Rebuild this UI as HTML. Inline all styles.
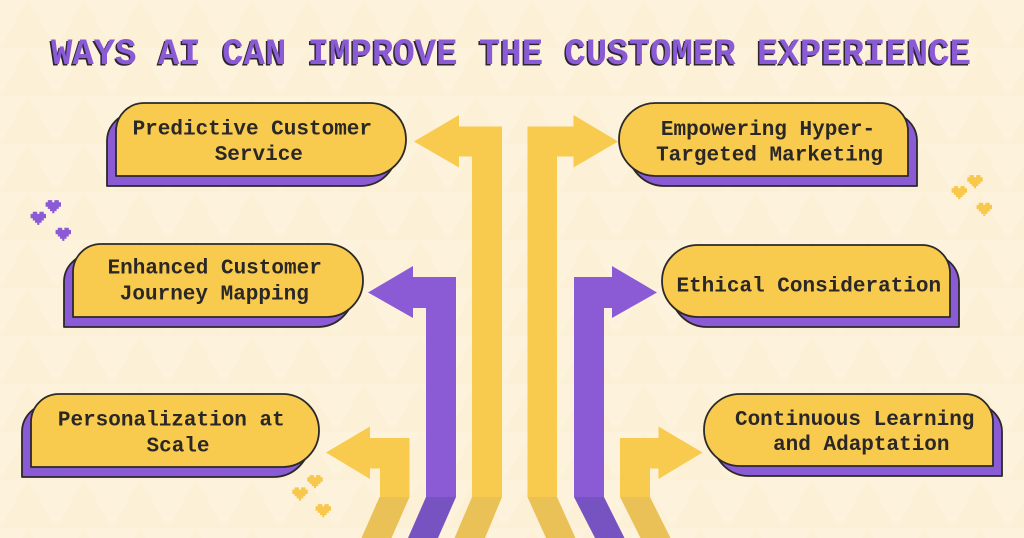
<!DOCTYPE html>
<html>
<head>
<meta charset="utf-8">
<style>
  html, body { margin: 0; padding: 0; background: #fdf3dc; }
  body { width: 1024px; height: 538px; overflow: hidden; }
  svg { display: block; }
  .t { font-family: "Liberation Mono", "DejaVu Sans Mono", monospace; font-weight: bold; font-size: 21px; fill: #2a2727; }
  .title { font-family: "Liberation Mono", "DejaVu Sans Mono", monospace; font-weight: bold; font-size: 37px; }
</style>
</head>
<body>
<svg width="1024" height="538" viewBox="0 0 1024 538" xmlns="http://www.w3.org/2000/svg">
  <defs>
    <pattern id="bgp" width="56" height="48" patternUnits="userSpaceOnUse">
      <rect width="56" height="48" fill="#fdf3dc"/>
      <polygon points="0,48 28,0 56,48" fill="#fcf0d7"/>
    </pattern>
  </defs>
  <rect width="1024" height="538" fill="url(#bgp)"/>

  <!-- Title -->
  <text class="title" x="509.5" y="65.5" text-anchor="middle" textLength="920" lengthAdjust="spacingAndGlyphs" fill="#2b2630">WAYS AI CAN IMPROVE THE CUSTOMER EXPERIENCE</text>
  <text class="title" x="511" y="64" text-anchor="middle" textLength="920" lengthAdjust="spacingAndGlyphs" fill="#8b5bd6">WAYS AI CAN IMPROVE THE CUSTOMER EXPERIENCE</text>

  <!-- Arrows -->
  <polygon fill="#f8ca4e" points="502,126.5 502,497 472,497 472,156.5 459,156.5 459,167.5 414,141.5 459,115 459,126.5"/>
  <polygon fill="#f8ca4e" points="527.5,497 527.5,126.5 573.5,126.5 573.5,115 618,141.5 573.5,167.5 573.5,156.5 557,156.5 557,497"/>
  <polygon fill="#8b5bd6" points="456,277 456,497 426,497 426,308 413,308 413,318 368,292.5 413,266 413,277"/>
  <polygon fill="#8b5bd6" points="574,497 574,277 612,277 612,266 657,292.5 612,318 612,308 604,308 604,497"/>
  <polygon fill="#f8ca4e" points="409.5,438 409.5,497 380,497 380,468.5 370,468.5 370,479 326,452.5 370,426.5 370,438"/>
  <polygon fill="#f8ca4e" points="620,497 620,438 658.5,438 658.5,426.5 702.5,452.5 658.5,479 658.5,468.5 650,468.5 650,497"/>

  <!-- bottom slants -->
  <polygon fill="#e9c157" points="379.5,497 409.5,497 391.5,538 361.5,538"/>
  <polygon fill="#7653c0" points="426,497 456,497 438,538 408,538"/>
  <polygon fill="#e9c157" points="472,497 502,497 485,538 454.5,538"/>
  <polygon fill="#e9c157" points="527.5,497 557,497 575.5,538 546,538"/>
  <polygon fill="#7653c0" points="574,497 604,497 624.5,538 595,538"/>
  <polygon fill="#e9c157" points="620,497 650,497 670.5,538 640.5,538"/>

  <!-- Boxes -->
  <g stroke="#2b2929" stroke-width="1.8" stroke-linejoin="round">
    <path fill="#8b5bd6" d="M107,186 L107,141 A28,28 0 0 1 135,113 L360.5,113 A36.5,36.5 0 0 1 360.5,186 Z"/>
    <path fill="#f8ca4e" d="M116,176 L116,131 A28,28 0 0 1 144,103 L369.5,103 A36.5,36.5 0 0 1 369.5,176 Z"/>
    <path fill="#8b5bd6" d="M64,327 L64,282 A28,28 0 0 1 92,254 L317.5,254 A36.5,36.5 0 0 1 317.5,327 Z"/>
    <path fill="#f8ca4e" d="M73,317 L73,272 A28,28 0 0 1 101,244 L326.5,244 A36.5,36.5 0 0 1 326.5,317 Z"/>
    <path fill="#8b5bd6" d="M22,477 L22,432 A28,28 0 0 1 50,404 L273.5,404 A36.5,36.5 0 0 1 273.5,477 Z"/>
    <path fill="#f8ca4e" d="M31,467 L31,422 A28,28 0 0 1 59,394 L282.5,394 A36.5,36.5 0 0 1 282.5,467 Z"/>

    <path fill="#8b5bd6" d="M917,186 L917,141 A28,28 0 0 0 889,113 L664.5,113 A36.5,36.5 0 0 0 664.5,186 Z"/>
    <path fill="#f8ca4e" d="M908,176 L908,131 A28,28 0 0 0 880,103 L655.5,103 A36.5,36.5 0 0 0 655.5,176 Z"/>
    <path fill="#8b5bd6" d="M959,327 L959,283 A28,28 0 0 0 931,255 L707,255 A36,36 0 0 0 707,327 Z"/>
    <path fill="#f8ca4e" d="M950,317 L950,273 A28,28 0 0 0 922,245 L698,245 A36,36 0 0 0 698,317 Z"/>
    <path fill="#8b5bd6" d="M1002,476 L1002,432 A28,28 0 0 0 974,404 L749,404 A36,36 0 0 0 749,476 Z"/>
    <path fill="#f8ca4e" d="M993,466 L993,422 A28,28 0 0 0 965,394 L740,394 A36,36 0 0 0 740,466 Z"/>
  </g>

  <!-- Box text -->
  <text class="t" x="252.3" y="134.3" text-anchor="middle">Predictive Customer</text>
  <text class="t" x="258.8" y="160" text-anchor="middle">Service</text>

  <text class="t" x="214.7" y="273.5" text-anchor="middle">Enhanced Customer</text>
  <text class="t" x="214.3" y="299.5" text-anchor="middle">Journey Mapping</text>

  <text class="t" x="171.3" y="425.7" text-anchor="middle">Personalization at</text>
  <text class="t" x="178" y="451.7" text-anchor="middle">Scale</text>

  <text class="t" x="768" y="135" text-anchor="middle">Empowering Hyper-</text>
  <text class="t" x="769.5" y="160.7" text-anchor="middle">Targeted Marketing</text>

  <text class="t" x="808.8" y="291.7" text-anchor="middle">Ethical Consideration</text>

  <text class="t" x="854.7" y="425" text-anchor="middle">Continuous Learning</text>
  <text class="t" x="861.3" y="450" text-anchor="middle">and Adaptation</text>

  <!-- Pixel hearts -->
  <g fill="#8b5bd6">
    <path transform="translate(45.6,200.1) scale(2.2)" d="M1,0 L3,0 L3,1 L4,1 L4,0 L6,0 L6,1 L7,1 L7,3 L6,3 L6,4 L5,4 L5,5 L4,5 L4,6 L3,6 L3,5 L2,5 L2,4 L1,4 L1,3 L0,3 L0,1 L1,1 Z"/>
    <path transform="translate(30.6,211.7) scale(2.2)" d="M1,0 L3,0 L3,1 L4,1 L4,0 L6,0 L6,1 L7,1 L7,3 L6,3 L6,4 L5,4 L5,5 L4,5 L4,6 L3,6 L3,5 L2,5 L2,4 L1,4 L1,3 L0,3 L0,1 L1,1 Z"/>
    <path transform="translate(55.6,227.7) scale(2.2)" d="M1,0 L3,0 L3,1 L4,1 L4,0 L6,0 L6,1 L7,1 L7,3 L6,3 L6,4 L5,4 L5,5 L4,5 L4,6 L3,6 L3,5 L2,5 L2,4 L1,4 L1,3 L0,3 L0,1 L1,1 Z"/>
  </g>
  <g fill="#f7c84c">
    <path transform="translate(307.3,475.1) scale(2.2)" d="M1,0 L3,0 L3,1 L4,1 L4,0 L6,0 L6,1 L7,1 L7,3 L6,3 L6,4 L5,4 L5,5 L4,5 L4,6 L3,6 L3,5 L2,5 L2,4 L1,4 L1,3 L0,3 L0,1 L1,1 Z"/>
    <path transform="translate(292.3,487.4) scale(2.2)" d="M1,0 L3,0 L3,1 L4,1 L4,0 L6,0 L6,1 L7,1 L7,3 L6,3 L6,4 L5,4 L5,5 L4,5 L4,6 L3,6 L3,5 L2,5 L2,4 L1,4 L1,3 L0,3 L0,1 L1,1 Z"/>
    <path transform="translate(315.6,504.1) scale(2.2)" d="M1,0 L3,0 L3,1 L4,1 L4,0 L6,0 L6,1 L7,1 L7,3 L6,3 L6,4 L5,4 L5,5 L4,5 L4,6 L3,6 L3,5 L2,5 L2,4 L1,4 L1,3 L0,3 L0,1 L1,1 Z"/>
    <path transform="translate(967.3,175.1) scale(2.2)" d="M1,0 L3,0 L3,1 L4,1 L4,0 L6,0 L6,1 L7,1 L7,3 L6,3 L6,4 L5,4 L5,5 L4,5 L4,6 L3,6 L3,5 L2,5 L2,4 L1,4 L1,3 L0,3 L0,1 L1,1 Z"/>
    <path transform="translate(951.6,186.1) scale(2.2)" d="M1,0 L3,0 L3,1 L4,1 L4,0 L6,0 L6,1 L7,1 L7,3 L6,3 L6,4 L5,4 L5,5 L4,5 L4,6 L3,6 L3,5 L2,5 L2,4 L1,4 L1,3 L0,3 L0,1 L1,1 Z"/>
    <path transform="translate(976.6,202.7) scale(2.2)" d="M1,0 L3,0 L3,1 L4,1 L4,0 L6,0 L6,1 L7,1 L7,3 L6,3 L6,4 L5,4 L5,5 L4,5 L4,6 L3,6 L3,5 L2,5 L2,4 L1,4 L1,3 L0,3 L0,1 L1,1 Z"/>
  </g>
</svg>
</body>
</html>
